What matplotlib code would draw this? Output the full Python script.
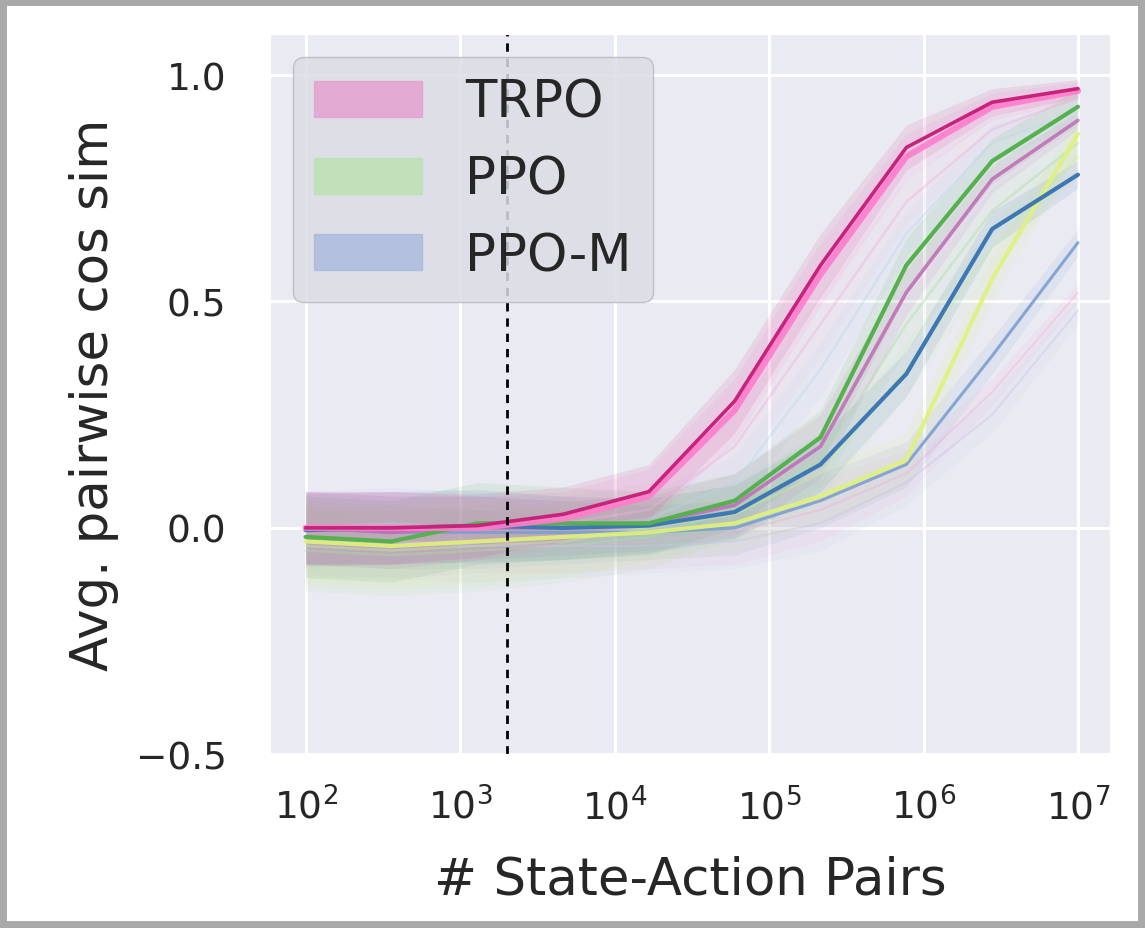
import matplotlib
matplotlib.use('Agg')
import matplotlib.pyplot as plt
import seaborn as sns
from matplotlib.patches import Patch, Rectangle

# sample counts (log spaced, 10^2 .. 10^7)
x = [100, 359, 1292, 4642, 16681, 59948, 215443, 774264, 2782559, 10000000]

# TRPO curves
trpo_a = [0.0, 0.0, 0.005, 0.03, 0.08, 0.28, 0.58, 0.84, 0.94, 0.97]
trpo_b = [0.0, 0.0, 0.0, 0.02, 0.07, 0.26, 0.56, 0.82, 0.93, 0.965]
trpo_c = [0.0, -0.01, 0.0, 0.0, 0.01, 0.05, 0.18, 0.52, 0.77, 0.90]
trpo_d = [0.0, 0.0, 0.0, 0.01, 0.04, 0.18, 0.45, 0.72, 0.88, 0.95]
trpo_e = [-0.02, -0.03, -0.03, -0.04, -0.03, -0.01, 0.04, 0.12, 0.30, 0.52]

# PPO curves
ppo_a = [-0.02, -0.03, 0.01, 0.01, 0.01, 0.06, 0.20, 0.58, 0.81, 0.93]
ppo_b = [-0.03, -0.04, -0.03, -0.02, -0.01, 0.01, 0.07, 0.15, 0.55, 0.87]
ppo_c = [-0.05, -0.06, -0.05, -0.04, -0.02, 0.04, 0.15, 0.45, 0.70, 0.85]
ppo_d = [-0.04, -0.05, -0.04, -0.03, 0.0, 0.03, 0.12, 0.35, 0.62, 0.82]

# PPO-M curves
ppom_a = [-0.005, 0.0, 0.005, 0.0, 0.005, 0.035, 0.14, 0.34, 0.66, 0.78]
ppom_b = [0.0, -0.01, -0.01, -0.01, -0.01, 0.0, 0.06, 0.14, 0.38, 0.63]
ppom_c = [0.0, 0.01, 0.0, 0.0, 0.02, 0.10, 0.35, 0.65, 0.85, 0.92]
ppom_d = [-0.03, -0.03, -0.04, -0.04, -0.04, -0.03, 0.01, 0.10, 0.25, 0.48]

# band half widths
trpo_spread = [0.08, 0.08, 0.07, 0.06, 0.06, 0.07, 0.07, 0.05, 0.03, 0.02]
ppo_spread = [0.09, 0.09, 0.09, 0.08, 0.07, 0.06, 0.06, 0.06, 0.05, 0.04]
ppom_spread = [0.08, 0.08, 0.08, 0.07, 0.06, 0.06, 0.06, 0.05, 0.04, 0.03]

labels = ['TRPO', 'PPO', 'PPO-M']
legend_colors = ['#e59fcf', '#b9e3b0', '#a9b9dc']
cutoff = 2000

sns.set_style('darkgrid')
plt.rcParams['font.family'] = ['DejaVu Sans']

fig = plt.figure(figsize=(11.45, 9.29), dpi=100)
ax = fig.add_axes([0.236, 0.187, 0.733, 0.775])

curves = [
    (trpo_e, trpo_spread, '#f0a8d8', 1.5, 0.35),
    (trpo_d, trpo_spread, '#eeb0dc', 1.8, 0.4),
    (ppo_d, ppo_spread, '#c8ef9a', 1.8, 0.4),
    (ppo_c, ppo_spread, '#a8e0a0', 1.8, 0.4),
    (ppom_d, ppom_spread, '#c4c4ea', 1.5, 0.4),
    (ppom_c, ppom_spread, '#b8d4ec', 1.8, 0.35),
    (ppom_b, ppom_spread, '#7c9fcf', 2.2, 0.9),
    (ppo_b, ppo_spread, '#e0f27a', 3.0, 0.9),
    (trpo_c, trpo_spread, '#c070b8', 2.6, 0.9),
    (ppom_a, ppom_spread, '#3d78b4', 3.0, 1.0),
    (ppo_a, ppo_spread, '#55b04e', 3.0, 1.0),
    (trpo_b, trpo_spread, '#ff7dcc', 4.5, 0.9),
    (trpo_a, trpo_spread, '#c8237a', 2.6, 1.0),
]

for y, s, c, lw, a in curves:
    lo = [v - d for v, d in zip(y, s)]
    hi = [v + d for v, d in zip(y, s)]
    ax.fill_between(x, lo, hi, color=c, alpha=0.1, lw=0)

for y, s, c, lw, a in curves:
    ax.plot(x, y, color=c, lw=lw, alpha=a)

ax.axvline(cutoff, color='black', ls='--', lw=2, dashes=(3, 2.5))

ax.set_xscale('log')
ax.set_xlim(59, 1.6e7)
ax.set_ylim(-0.5, 1.09)
ax.set_yticks([-0.5, 0.0, 0.5, 1.0])
ax.set_xticks([1e2, 1e3, 1e4, 1e5, 1e6, 1e7])
ax.minorticks_off()
ax.grid(True, color='white', lw=2.2)
ax.tick_params(axis='y', labelsize=27, pad=28)
ax.tick_params(axis='x', labelsize=27, pad=20)
ax.set_xlabel('# State-Action Pairs', fontsize=37, labelpad=20)
ax.set_ylabel('Avg. pairwise cos sim', fontsize=37, labelpad=12)

handles = [Patch(facecolor=c, edgecolor=c, alpha=0.8) for c in legend_colors]
leg = ax.legend(handles, labels, loc='upper left', fontsize=37, frameon=True,
                borderaxespad=0.45, handlelength=2.1, handletextpad=0.85,
                labelspacing=0.52, fancybox=True)
leg.get_frame().set_facecolor('#dcdce4')
leg.get_frame().set_edgecolor('#b8b8c0')
leg.get_frame().set_alpha(0.85)

# screenshot style grey frame
fig.patches.append(Rectangle((0, 0), 1, 1, transform=fig.transFigure,
                             fill=False, edgecolor='#a9a9a9', lw=10))

fig.savefig('out.png', dpi=100, facecolor='white')
